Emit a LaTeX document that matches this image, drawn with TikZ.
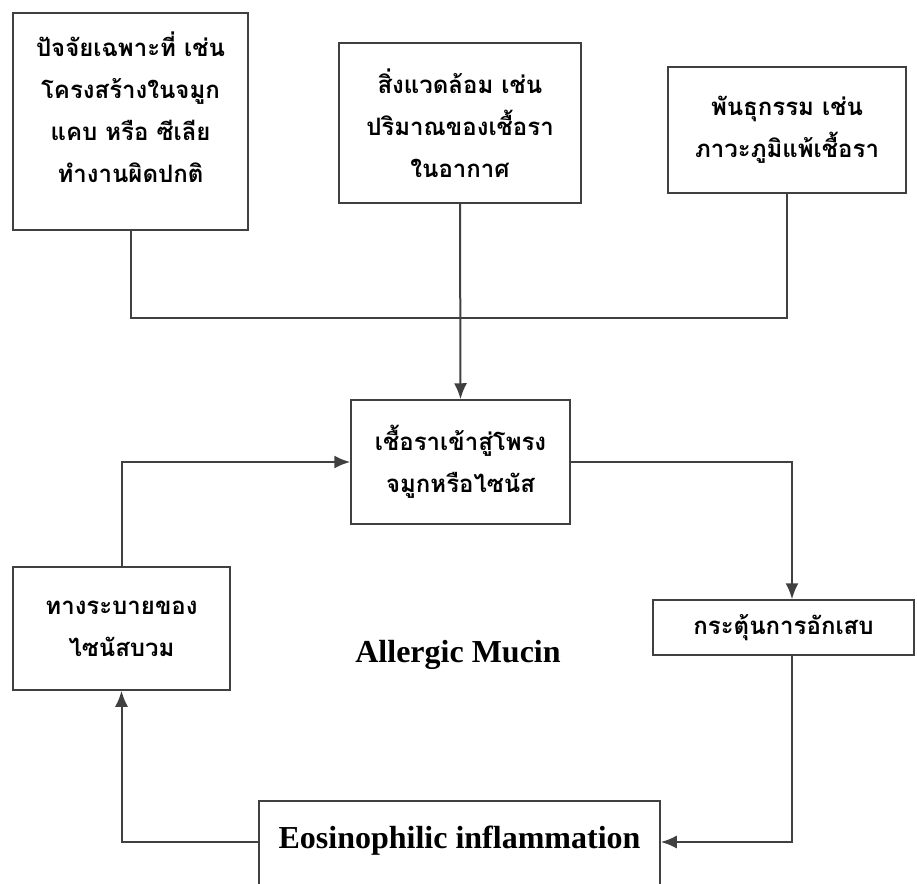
\documentclass[tikz,border=0pt]{standalone}
\usepackage{fontspec}
\setmainfont{Liberation Serif}
\newfontfamily\thaifont[Script=Thai]{Loma}
\usetikzlibrary{arrows.meta,positioning}

\begin{document}
\begin{tikzpicture}[x=1pt,y=-1pt,>={Latex[length=16pt,width=13pt]},
every node/.style={align=center, text centered},
factor/.style={draw=black!75, line width=1.5pt, rectangle,
    font=\thaifont\bfseries\fontsize{24}{42}\selectfont},
link/.style={draw=black!75, line width=2pt},
big/.style={font=\bfseries\fontsize{32}{38}\selectfont}]
\clip (0,0) rectangle (917,883);
\node[factor, minimum width=235, minimum height=217] (local) at (130.5,121.5)
  {ปัจจัยเฉพาะที่ เช่น\\โครงสร้างในจมูก\\แคบ หรือ ซีเลีย\\ทำงานผิดปกติ\\[-14pt]};
\node[factor, minimum width=242, minimum height=160] (env) at (460,123)
  {สิ่งแวดล้อม เช่น\\ปริมาณของเชื้อรา\\ในอากาศ};
\node[factor, minimum width=238, minimum height=126] (gene) at (787,130)
  {พันธุกรรม เช่น\\ภาวะภูมิแพ้เชื้อรา};
\node[factor, minimum width=219, minimum height=124] (entry) at (460.5,462)
  {เชื้อราเข้าสู่โพรง\\จมูกหรือไซนัส};
\node[factor, minimum width=217, minimum height=123] (drain) at (121.5,628.5)
  {ทางระบายของ\\ไซนัสบวม};
\node[factor, minimum width=261, minimum height=55] (inflam) at (783.5,627.5)
  {กระตุ้นการอักเสบ};
\node[big] (mucin) at (458,655) {Allergic Mucin};
\node[big, draw=black!75, line width=1.5pt, anchor=north, minimum width=401,
  text height=25pt, text depth=90pt, inner ysep=23pt] (eos) at (459.5,800)
  {Eosinophilic inflammation};

\coordinate (bus) at (0,318);
\coordinate (drop) at (792,0);
\coordinate (low) at (0,842);
\draw[link] (local.south) -- (local.south |- bus) -- (gene.south |- bus) -- (gene.south);
\draw[link,->] (env.south) -- (entry.north);
\draw[link,->] (entry.east) -| (drop |- inflam.north);
\draw[link,->] (drop |- inflam.south) -- (drop |- low) -- (eos.east |- low);
\draw[link,->] (eos.west |- low) -| (drain.south);
\draw[link,->] (drain.north) |- (entry.west);
\end{tikzpicture}
\end{document}
